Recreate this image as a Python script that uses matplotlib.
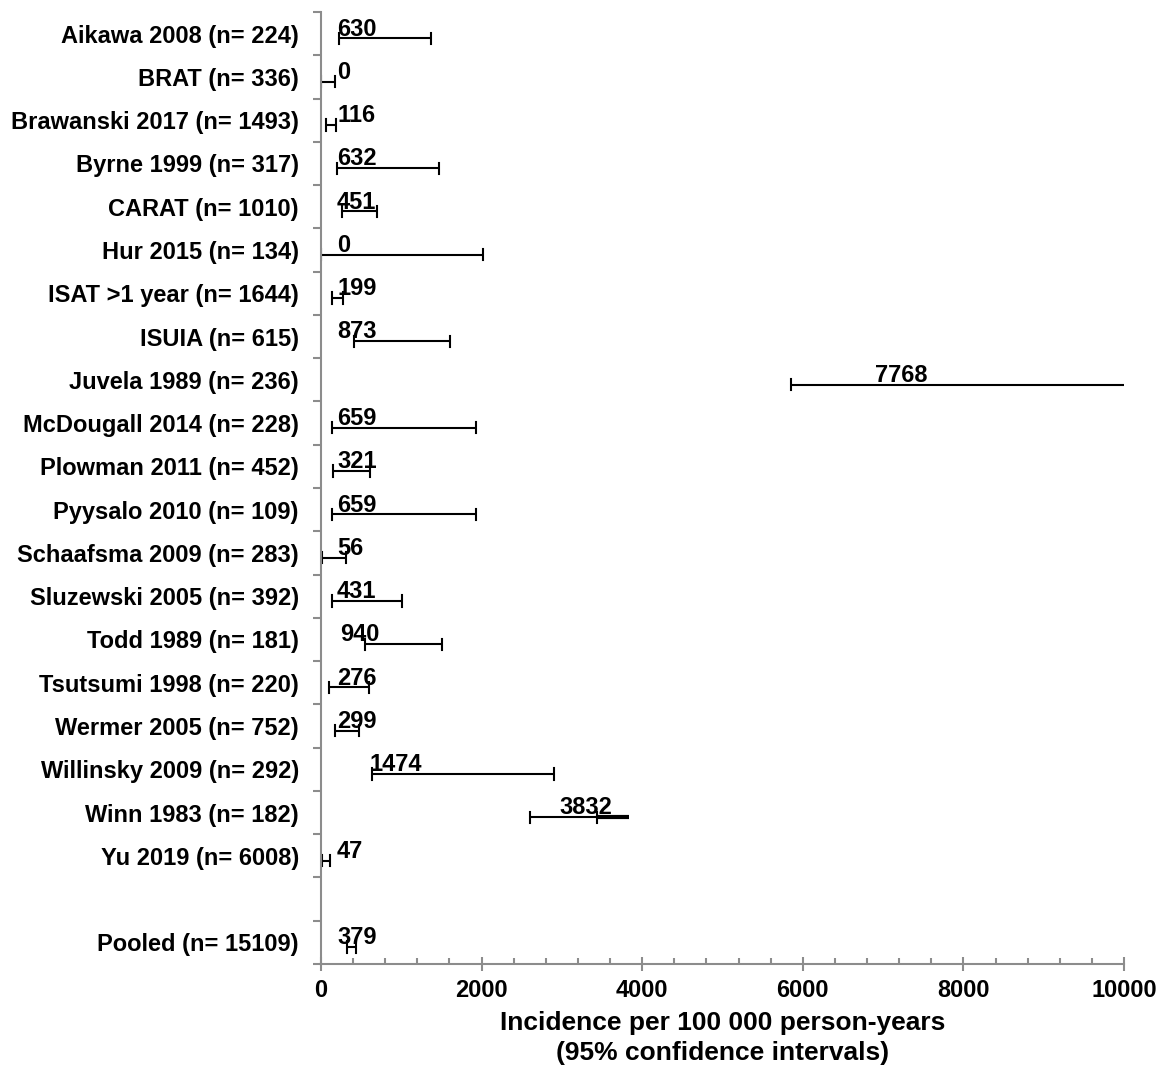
import numpy as np
import matplotlib
matplotlib.use("Agg")
from matplotlib import pyplot as plt
from matplotlib.ticker import MultipleLocator, FixedLocator

plt.rcParams["font.family"] = ["Liberation Sans", "DejaVu Sans"]
plt.rcParams["font.weight"] = "bold"

studies = ["Aikawa 2008 (n= 224)", "BRAT (n= 336)", "Brawanski 2017 (n= 1493)",
           "Byrne 1999 (n= 317)", "CARAT (n= 1010)", "Hur 2015 (n= 134)",
           "ISAT >1 year (n= 1644)", "ISUIA (n= 615)", "Juvela 1989 (n= 236)",
           "McDougall 2014 (n= 228)", "Plowman 2011 (n= 452)", "Pyysalo 2010 (n= 109)",
           "Schaafsma 2009 (n= 283)", "Sluzewski 2005 (n= 392)", "Todd 1989 (n= 181)",
           "Tsutsumi 1998 (n= 220)", "Wermer 2005 (n= 752)", "Willinsky 2009 (n= 292)",
           "Winn 1983 (n= 182)", "Yu 2019 (n= 6008)", "", "Pooled (n= 15109)"]
incidence = [630, 0, 116, 632, 451, 0, 199, 873, 7768, 659, 321, 659,
             56, 431, 940, 276, 299, 1474, 3832, 47, np.nan, 379]
ci_low = [228, 0, 62, 199, 265, 0, 133, 411, 5850, 133, 145, 133,
          12, 137, 544, 100, 174, 635, 2602, 12, np.nan, 330]
ci_high = [1370, 178, 183, 1473, 701, 2021, 278, 1606, 10400, 1926, 610, 1926,
           311, 1008, 1506, 598, 469, 2905, 3432, 112, np.nan, 436]

grey = "#8c8c8c"
fig = plt.figure(figsize=(11.68, 10.68), dpi=100)
ax = fig.add_axes([321 / 1168, 1 - 964 / 1068, 803 / 1168, 952 / 1068])

y = np.arange(len(studies))
cap = 0.13
for i, (v, lo, hi) in enumerate(zip(incidence, ci_low, ci_high)):
    if np.isnan(v):
        continue
    yy = i + 0.11
    # minus and plus halves drawn separately (Excel custom error bars)
    ax.plot([lo, v], [yy, yy], color="black", lw=1.5, solid_capstyle="butt")
    ax.plot([v, hi], [yy, yy], color="black", lw=3 if hi < v else 1.5, solid_capstyle="butt")
    for e in (lo, hi):
        ax.plot([e, e], [yy - cap, yy + cap], color="black", lw=1.5)

    lab = f"{v:.0f}"
    right = v - 210
    if right - len(lab) * 160 < 200:
        ax.text(200, i + 0.16, lab, ha="left", va="bottom", fontsize=17, fontweight="bold")
    else:
        ax.text(right, i + 0.16, lab, ha="right", va="bottom", fontsize=17, fontweight="bold")

ax.set_xlim(0, 10000)
ax.set_ylim(len(studies) - 0.5, -0.5)

ax.set_yticks(y)
ax.set_yticklabels(studies, fontsize=17, fontweight="bold")
ax.yaxis.set_minor_locator(FixedLocator(np.arange(-0.5, len(studies), 1)))
ax.tick_params(axis="y", which="major", length=0, pad=16)
ax.tick_params(axis="y", which="minor", direction="out", length=6, width=1.5, color=grey)

ax.xaxis.set_major_locator(MultipleLocator(2000))
ax.xaxis.set_minor_locator(MultipleLocator(400))
ax.tick_params(axis="x", which="major", direction="inout", length=10, width=1.5,
               color=grey, labelsize=17, pad=6)
ax.tick_params(axis="x", which="minor", direction="in", length=4, width=1.5, color=grey)
for t in ax.get_xticklabels():
    t.set_fontweight("bold")

for s in ["top", "right"]:
    ax.spines[s].set_visible(False)
for s in ["left", "bottom"]:
    ax.spines[s].set_color(grey)
    ax.spines[s].set_linewidth(1.5)
    ax.spines[s].set_zorder(5)

ax.set_xlabel("Incidence per 100 000 person-years\n(95% confidence intervals)",
              fontsize=19, fontweight="bold", labelpad=6, linespacing=1.35)

fig.savefig("out.png", dpi=100)
